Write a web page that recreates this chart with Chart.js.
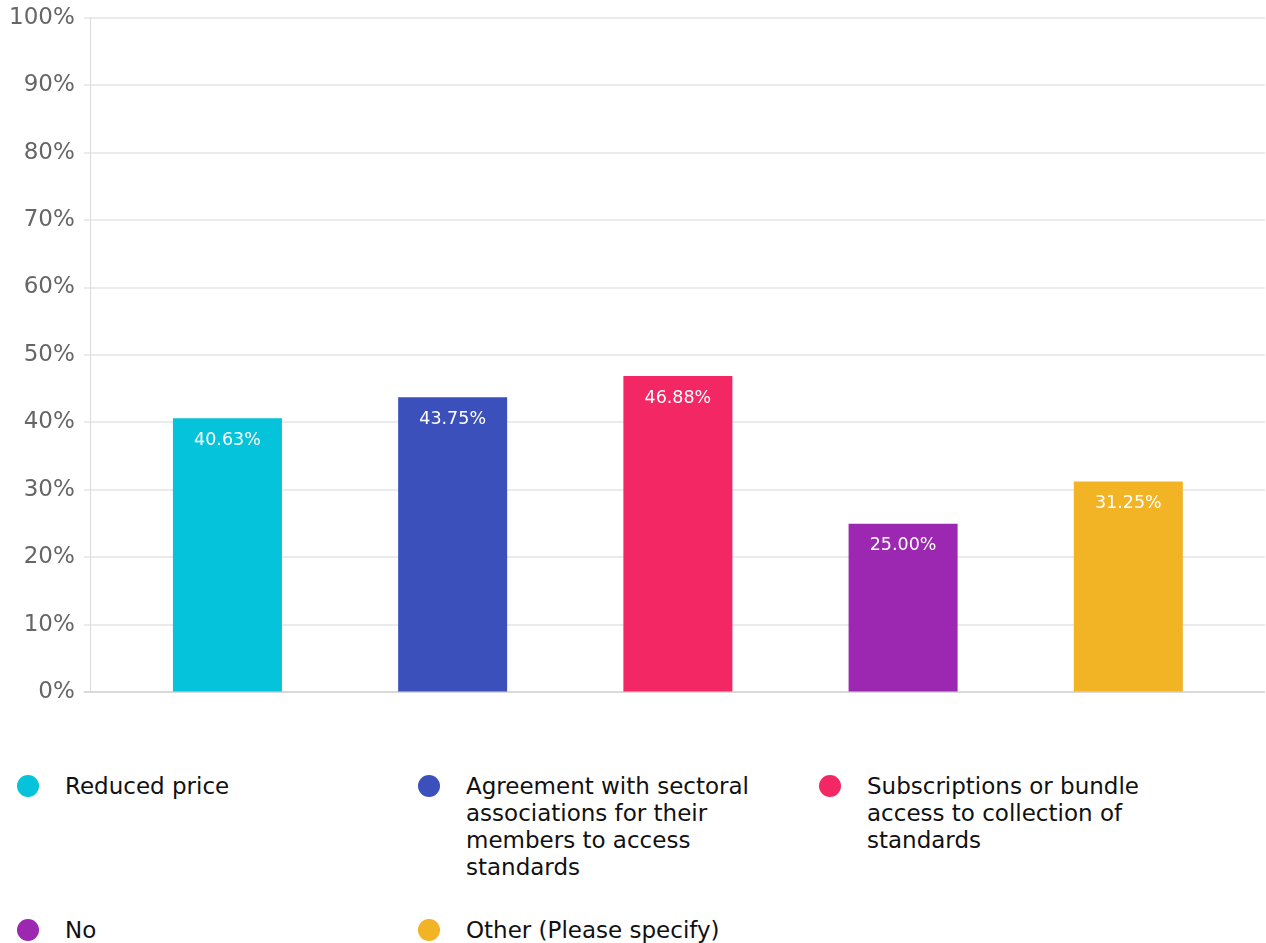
<!DOCTYPE html>
<html>
<head>
<meta charset="utf-8">
<script src="https://cdn.jsdelivr.net/npm/chart.js@4"></script>
<style>
  html, body { margin: 0; padding: 0; background: #fff; }
  body { width: 1266px; height: 943px; overflow: hidden; font-family: "DejaVu Sans", sans-serif; }
  #wrap { position: absolute; left: 0; top: 0; width: 1266px; height: 710px; }
  #legend { position: absolute; left: 17px; top: 773px; width: 1240px; display: flex; flex-wrap: wrap; }
  .item { position: relative; width: 401px; margin-bottom: 36px; }
  .dot { position: absolute; left: 0; top: 2px; width: 22px; height: 22px; border-radius: 50%; }
  .txt { margin-left: 48px; width: 310px; font-size: 23px; line-height: 27px; color: #111; }
</style>
</head>
<body>
<div id="wrap"><canvas id="c"></canvas></div>
<div id="legend"></div>
<script>
const categories = [
  "Reduced price",
  "Agreement with sectoral associations for their members to access standards",
  "Subscriptions or bundle access to collection of standards",
  "No",
  "Other (Please specify)"
];
const values = [40.63, 43.75, 46.88, 25.00, 31.25];
const colors = ["#04C3DA", "#3B50BB", "#F22764", "#9C27B1", "#F2B324"];
const yTicks = [0, 10, 20, 30, 40, 50, 60, 70, 80, 90, 100];

const datasets = categories.map((c, i) => ({
  label: c,
  data: [values[i]],
  backgroundColor: colors[i],
  borderWidth: 0,
  categoryPercentage: 0.959,
  barPercentage: 0.484
}));

const valueLabels = {
  id: 'valueLabels',
  afterDatasetsDraw(chart) {
    const ctx = chart.ctx;
    ctx.save();
    ctx.font = '17.5px "DejaVu Sans"';
    ctx.fillStyle = '#ffffff';
    ctx.textAlign = 'center';
    ctx.textBaseline = 'middle';
    chart.data.datasets.forEach((ds, i) => {
      const meta = chart.getDatasetMeta(i);
      meta.data.forEach((bar, j) => {
        const v = ds.data[j];
        ctx.fillText(v.toFixed(2) + '%', bar.x, bar.y + 22);
      });
    });
    ctx.restore();
  }
};

new Chart(document.getElementById('c'), {
  type: 'bar',
  data: { labels: [''], datasets },
  options: {
    responsive: true,
    maintainAspectRatio: false,
    animation: false,
    layout: { padding: { left: 0, right: 1, top: 0, bottom: 0 } },
    plugins: { legend: { display: false }, tooltip: { enabled: false } },
    scales: {
      x: { display: false },
      y: {
        min: 0, max: 100,
        afterBuildTicks(scale) { scale.ticks = yTicks.map(v => ({ value: v })); },
        ticks: {
          callback: v => v + '%',
          color: '#666666',
          font: { family: 'DejaVu Sans', size: 23, lineHeight: 0.75 },
          padding: 9
        },
        grid: {
          color: ctx => ctx.tick && ctx.tick.value === 0 ? '#d9d9d9' : '#ebebeb',
          lineWidth: 2,
          tickLength: 7
        },
        border: { color: '#d9d9d9', width: 1 }
      }
    }
  },
  plugins: [valueLabels]
});

const legend = document.getElementById('legend');
categories.forEach((c, i) => {
  const it = document.createElement('div');
  it.className = 'item';
  it.innerHTML = '<span class="dot" style="background:' + colors[i] + '"></span><div class="txt"></div>';
  it.querySelector('.txt').textContent = c;
  legend.appendChild(it);
});
</script>
</body>
</html>
